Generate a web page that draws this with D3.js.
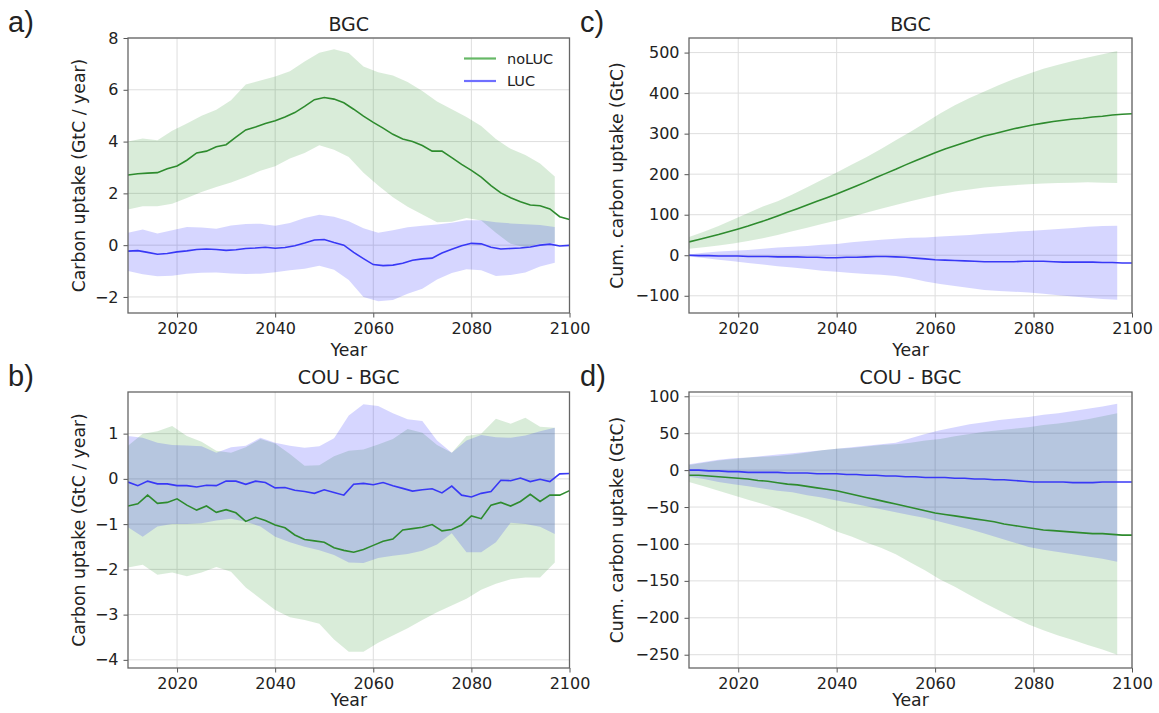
<!DOCTYPE html>
<html>
<head>
<meta charset="utf-8">
<script src="https://cdn.jsdelivr.net/npm/d3@7"></script>
<style>
body { margin: 0; background: #fff; }
svg text { font-family: "DejaVu Sans", sans-serif; fill: #222; }
</style>
</head>
<body>
<div id="chart"></div>
<script>
// Data
var lineYears = d3.range(2010, 2101, 2);   // yearly means (every 2nd year)
var bandYears = d3.range(2010, 2098, 3);   // spread bands end in 2097
var xTicks = [2020, 2040, 2060, 2080, 2100];
var seriesNames = ["noLUC", "LUC"];

// a) BGC, annual uptake
var aGreenMean = [2.71, 2.76, 2.78, 2.80, 2.95, 3.06, 3.28, 3.56, 3.63, 3.80, 3.88, 4.17, 4.45, 4.56, 4.70, 4.80, 4.95, 5.12, 5.36, 5.62, 5.70, 5.64, 5.50, 5.25, 4.98, 4.74, 4.52, 4.28, 4.10, 4.00, 3.85, 3.63, 3.63, 3.38, 3.12, 2.89, 2.63, 2.30, 2.02, 1.83, 1.68, 1.55, 1.52, 1.40, 1.10, 0.99];
var aGreenHi = [4.00, 4.12, 4.05, 4.42, 4.70, 5.00, 5.23, 5.60, 6.20, 6.36, 6.51, 6.72, 7.09, 7.43, 7.57, 7.42, 6.90, 6.68, 6.55, 6.30, 5.95, 5.55, 5.25, 4.95, 4.60, 4.10, 3.72, 3.48, 3.15, 2.65];
var aGreenLo = [1.38, 1.50, 1.50, 1.60, 1.82, 2.05, 2.25, 2.42, 2.63, 2.87, 3.05, 3.35, 3.56, 3.86, 3.68, 3.40, 2.80, 2.30, 1.85, 1.48, 1.18, 0.88, 0.90, 1.05, 0.95, 0.48, 0.05, -0.08, 0.05, 0.09];
var aBlueMean = [-0.23, -0.21, -0.28, -0.35, -0.32, -0.26, -0.22, -0.17, -0.15, -0.17, -0.20, -0.18, -0.13, -0.11, -0.08, -0.12, -0.09, -0.02, 0.08, 0.20, 0.22, 0.10, 0.00, -0.28, -0.52, -0.75, -0.79, -0.77, -0.70, -0.58, -0.53, -0.50, -0.30, -0.16, -0.02, 0.07, 0.05, -0.08, -0.15, -0.13, -0.11, -0.07, 0.00, 0.04, -0.03, -0.01];
var aBlueHi = [0.48, 0.60, 0.45, 0.58, 0.70, 0.68, 0.63, 0.76, 0.82, 0.83, 0.75, 0.86, 1.05, 1.17, 1.10, 0.92, 0.65, 0.48, 0.58, 0.69, 0.75, 0.80, 0.87, 0.96, 0.96, 0.88, 0.84, 0.81, 0.78, 0.70];
var aBlueLo = [-1.00, -1.12, -1.20, -1.18, -1.10, -1.07, -1.06, -1.09, -1.11, -1.10, -1.05, -0.97, -0.91, -0.80, -0.95, -1.35, -2.00, -2.17, -2.12, -1.88, -1.68, -1.33, -1.08, -0.93, -0.97, -1.19, -1.15, -1.06, -0.82, -0.68];

// b) COU - BGC, annual uptake
var bGreenMean = [-0.60, -0.55, -0.36, -0.54, -0.52, -0.44, -0.58, -0.69, -0.60, -0.74, -0.68, -0.75, -0.94, -0.85, -0.92, -1.02, -1.08, -1.24, -1.34, -1.37, -1.40, -1.52, -1.58, -1.62, -1.56, -1.47, -1.38, -1.33, -1.13, -1.10, -1.07, -1.01, -1.15, -1.12, -1.02, -0.82, -0.88, -0.58, -0.52, -0.60, -0.50, -0.34, -0.50, -0.36, -0.36, -0.26];
var bGreenHi = [0.73, 1.00, 1.05, 1.17, 0.95, 0.82, 0.62, 0.58, 0.70, 0.88, 0.78, 0.55, 0.29, 0.30, 0.50, 0.62, 0.65, 0.76, 0.88, 1.10, 1.02, 0.75, 0.58, 0.95, 1.00, 1.33, 1.22, 1.35, 1.15, 1.13];
var bGreenLo = [-1.96, -1.90, -2.12, -2.07, -2.15, -2.07, -1.95, -2.05, -2.40, -2.65, -2.90, -3.06, -3.12, -3.20, -3.55, -3.82, -3.82, -3.62, -3.46, -3.30, -3.12, -2.95, -2.80, -2.65, -2.45, -2.32, -2.22, -2.18, -2.18, -1.85];
var bBlueMean = [-0.07, -0.15, -0.05, -0.11, -0.11, -0.15, -0.15, -0.18, -0.14, -0.15, -0.05, -0.05, -0.12, -0.05, -0.08, -0.20, -0.19, -0.25, -0.28, -0.32, -0.24, -0.30, -0.36, -0.12, -0.10, -0.13, -0.08, -0.15, -0.21, -0.27, -0.24, -0.22, -0.31, -0.16, -0.36, -0.40, -0.32, -0.28, -0.03, -0.04, 0.02, -0.06, -0.01, -0.06, 0.11, 0.12];
var bBlueHi = [0.95, 0.91, 0.80, 0.75, 0.74, 0.72, 0.58, 0.70, 0.73, 0.91, 0.80, 0.73, 0.69, 0.72, 0.90, 1.40, 1.65, 1.61, 1.45, 1.32, 1.28, 0.85, 0.58, 0.85, 0.97, 0.92, 0.91, 0.96, 1.05, 1.13];
var bBlueLo = [-1.07, -1.28, -1.05, -1.00, -1.00, -0.98, -0.92, -0.88, -0.95, -1.05, -1.28, -1.40, -1.50, -1.58, -1.68, -1.85, -1.86, -1.75, -1.70, -1.66, -1.59, -1.45, -1.20, -1.62, -1.62, -1.40, -0.97, -1.00, -1.06, -1.22];

// c) BGC, cumulative uptake
var cGreenMean = [33, 39, 45, 51, 58, 65, 72, 80, 88, 97, 106, 115, 124, 133, 142, 151, 161, 171, 181, 192, 202, 212, 223, 233, 243, 253, 262, 270, 278, 286, 294, 300, 306, 312, 317, 322, 326, 330, 333, 336, 338, 341, 343, 346, 348, 349];
var cGreenHi = [45, 58, 72, 88, 104, 120, 133, 150, 168, 186, 204, 223, 242, 262, 284, 305, 327, 350, 370, 388, 404, 420, 435, 448, 460, 470, 479, 488, 496, 504];
var cGreenLo = [16, 20, 24, 29, 35, 42, 50, 59, 68, 77, 86, 95, 105, 115, 124, 133, 142, 150, 157, 162, 167, 170, 173, 175, 177, 178, 179, 180, 179, 178];
var cBlueMean = [0, -1, -1, -2, -2, -2, -3, -3, -3, -4, -4, -4, -5, -5, -6, -6, -5, -5, -4, -3, -3, -4, -5, -7, -9, -11, -12, -13, -14, -15, -16, -16, -16, -16, -15, -15, -15, -16, -17, -17, -17, -17, -18, -18, -19, -19];
var cBlueHi = [2, 6, 9, 11, 13, 16, 19, 21, 23, 26, 28, 32, 35, 38, 41, 43, 44, 46, 48, 50, 53, 55, 58, 60, 62, 65, 67, 70, 72, 73];
var cBlueLo = [-3, -7, -11, -15, -19, -23, -27, -30, -34, -38, -41, -44, -46, -48, -51, -57, -65, -71, -76, -81, -86, -88, -90, -92, -95, -99, -102, -105, -108, -110];

// d) COU - BGC, cumulative uptake
var dGreenMean = [-7, -7, -8, -9, -10, -11, -12, -14, -15, -17, -19, -20, -22, -24, -26, -28, -31, -34, -37, -40, -43, -46, -49, -52, -55, -58, -60, -62, -64, -66, -68, -70, -73, -75, -77, -79, -81, -82, -83, -84, -85, -86, -86, -87, -88, -88];
var dGreenHi = [7, 10, 13, 15, 17, 18, 19, 21, 24, 27, 29, 30, 32, 34, 35, 37, 40, 42, 46, 49, 52, 54, 56, 58, 61, 63, 66, 69, 73, 77];
var dGreenLo = [-16, -22, -28, -34, -40, -46, -52, -59, -66, -74, -83, -90, -98, -105, -114, -125, -136, -148, -158, -169, -180, -190, -200, -209, -217, -224, -230, -237, -243, -250];
var dBlueMean = [0, 0, -1, -1, -2, -2, -3, -3, -3, -3, -4, -4, -4, -5, -5, -5, -6, -6, -7, -7, -8, -8, -9, -9, -10, -10, -10, -11, -11, -12, -12, -13, -13, -14, -15, -16, -16, -16, -16, -17, -17, -17, -16, -16, -16, -16];
var dBlueHi = [8, 11, 14, 16, 17, 19, 21, 23, 25, 27, 29, 31, 33, 35, 37, 43, 49, 54, 58, 62, 65, 68, 70, 72, 75, 77, 80, 83, 86, 90];
var dBlueLo = [-9, -12, -16, -19, -22, -25, -28, -30, -34, -37, -41, -45, -49, -53, -57, -61, -65, -70, -75, -80, -86, -92, -98, -104, -108, -111, -114, -117, -120, -124];

// y tick labels per panel
var aTicks = [-2, 0, 2, 4, 6, 8];
var bTicks = [-4, -3, -2, -1, 0, 1];
var cTicks = [-100, 0, 100, 200, 300, 400, 500];
var dTicks = [-250, -200, -150, -100, -50, 0, 50, 100];

// Layout
var chart_width  = 1159;
var chart_height = 713;
var cols = [[128, 569.5], [689, 1132]];
var rows = [[38, 313], [392, 668]];

var greenLine = "#2e8b2e", blueLine = "#3838f6";
var greenFill = "rgba(0,128,0,0.15)", blueFill = "rgba(0,0,255,0.16)";

var panels = [
    { letter: "a)", title: "BGC", ylab: "Carbon uptake (GtC / year)", col: 0, row: 0,
      yDomain: [-2.62, 8.0], yTicks: aTicks, legend: true,
      green: [aGreenMean, aGreenLo, aGreenHi], blue: [aBlueMean, aBlueLo, aBlueHi] },
    { letter: "b)", title: "COU - BGC", ylab: "Carbon uptake (GtC / year)", col: 0, row: 1,
      yDomain: [-4.18, 1.92], yTicks: bTicks,
      green: [bGreenMean, bGreenLo, bGreenHi], blue: [bBlueMean, bBlueLo, bBlueHi] },
    { letter: "c)", title: "BGC", ylab: "Cum. carbon uptake (GtC)", col: 1, row: 0,
      yDomain: [-142.5, 536], yTicks: cTicks,
      green: [cGreenMean, cGreenLo, cGreenHi], blue: [cBlueMean, cBlueLo, cBlueHi] },
    { letter: "d)", title: "COU - BGC", ylab: "Cum. carbon uptake (GtC)", col: 1, row: 1,
      yDomain: [-268, 105.8], yTicks: dTicks,
      green: [dGreenMean, dGreenLo, dGreenHi], blue: [dBlueMean, dBlueLo, dBlueHi] }
];

// SVG
var svg = d3.select("#chart")
    .append("svg")
    .attr("width", chart_width)
    .attr("height", chart_height);

panels.forEach(function(p, pi) {
    var x0 = cols[p.col][0], x1 = cols[p.col][1];
    var y0 = rows[p.row][0], y1 = rows[p.row][1];

    var x = d3.scaleLinear().domain([2010, 2100]).range([x0, x1]);
    var y = d3.scaleLinear().domain(p.yDomain).range([y1, y0]);

    var g = svg.append("g");

    // clip
    var clipId = "clip" + pi;
    svg.append("clipPath").attr("id", clipId)
        .append("rect")
        .attr("x", x0).attr("y", y0)
        .attr("width", x1 - x0).attr("height", y1 - y0);

    // grid
    g.append("g").selectAll("line.gx")
        .data(xTicks).enter().append("line")
        .attr("x1", d => x(d)).attr("x2", d => x(d))
        .attr("y1", y0).attr("y2", y1)
        .style("stroke", "#dedede").style("stroke-width", 1);
    g.append("g").selectAll("line.gy")
        .data(p.yTicks).enter().append("line")
        .attr("x1", x0).attr("x2", x1)
        .attr("y1", d => y(d)).attr("y2", d => y(d))
        .style("stroke", "#dedede").style("stroke-width", 1);

    var plot = g.append("g").attr("clip-path", "url(#" + clipId + ")");

    // bands
    var area = d3.area()
        .x((d, i) => x(bandYears[i]))
        .y0(d => y(d[0]))
        .y1(d => y(d[1]));
    var line = d3.line()
        .x((d, i) => x(lineYears[i]))
        .y(d => y(d));

    var gBand = d3.zip(p.green[1], p.green[2]);
    var bBand = d3.zip(p.blue[1], p.blue[2]);

    plot.append("path").datum(gBand).attr("d", area).style("fill", greenFill);
    plot.append("path").datum(bBand).attr("d", area).style("fill", blueFill);

    plot.append("path").datum(p.green[0]).attr("d", line)
        .style("fill", "none").style("stroke", greenLine).style("stroke-width", 1.6);
    plot.append("path").datum(p.blue[0]).attr("d", line)
        .style("fill", "none").style("stroke", blueLine).style("stroke-width", 1.6);

    // axes
    var xAxis = g.append("g")
        .attr("transform", "translate(0," + y1 + ")")
        .call(d3.axisBottom(x).tickValues(xTicks).tickFormat(d3.format("d"))
            .tickSize(4.5).tickPadding(5));
    var yAxis = g.append("g")
        .attr("transform", "translate(" + x0 + ",0)")
        .call(d3.axisLeft(y).tickValues(p.yTicks).tickFormat(d3.format("d"))
            .tickSize(4.5).tickPadding(5));
    [xAxis, yAxis].forEach(function(ax) {
        ax.select(".domain").remove();
        ax.selectAll("line").style("stroke", "#555");
        ax.selectAll("text")
            .style("font-family", "DejaVu Sans")
            .style("font-size", "16px")
            .style("fill", "#222");
    });

    // frame
    g.append("rect")
        .attr("x", x0).attr("y", y0)
        .attr("width", x1 - x0).attr("height", y1 - y0)
        .style("fill", "none").style("stroke", "#666").style("stroke-width", 1.3);

    // title
    g.append("text")
        .attr("x", (x0 + x1) / 2)
        .attr("y", p.row === 0 ? 31 : 384)
        .attr("text-anchor", "middle")
        .style("font-size", "19px")
        .text(p.title);

    // x label
    g.append("text")
        .attr("x", (x0 + x1) / 2)
        .attr("y", p.row === 0 ? 356 : 706)
        .attr("text-anchor", "middle")
        .style("font-size", "17.3px")
        .text("Year");

    // y label
    g.append("text")
        .attr("transform", "translate(" + (p.col === 0 ? 85 : 623) + "," + ((y0 + y1) / 2) + ") rotate(-90)")
        .attr("text-anchor", "middle")
        .style("font-size", "17.3px")
        .text(p.ylab);

    // panel letter
    g.append("text")
        .attr("x", p.col === 0 ? 8 : 580)
        .attr("y", p.row === 0 ? 32 : 386)
        .style("font-family", "Liberation Sans, Arial, sans-serif")
        .style("font-size", "29px")
        .text(p.letter);

    // legend
    if (p.legend) {
        var leg = g.append("g").selectAll("g")
            .data(seriesNames).enter().append("g")
            .attr("transform", (d, i) => "translate(464," + (58.5 + i * 22.5) + ")");
        leg.append("line")
            .attr("x1", 0).attr("x2", 32)
            .style("stroke", (d, i) => i === 0 ? "#66b866" : "#6f6fff")
            .style("stroke-width", 2.2);
        leg.append("text")
            .attr("x", 43).attr("y", 5)
            .style("font-size", "14.5px")
            .text(d => d);
    }
});
</script>
</body>
</html>
